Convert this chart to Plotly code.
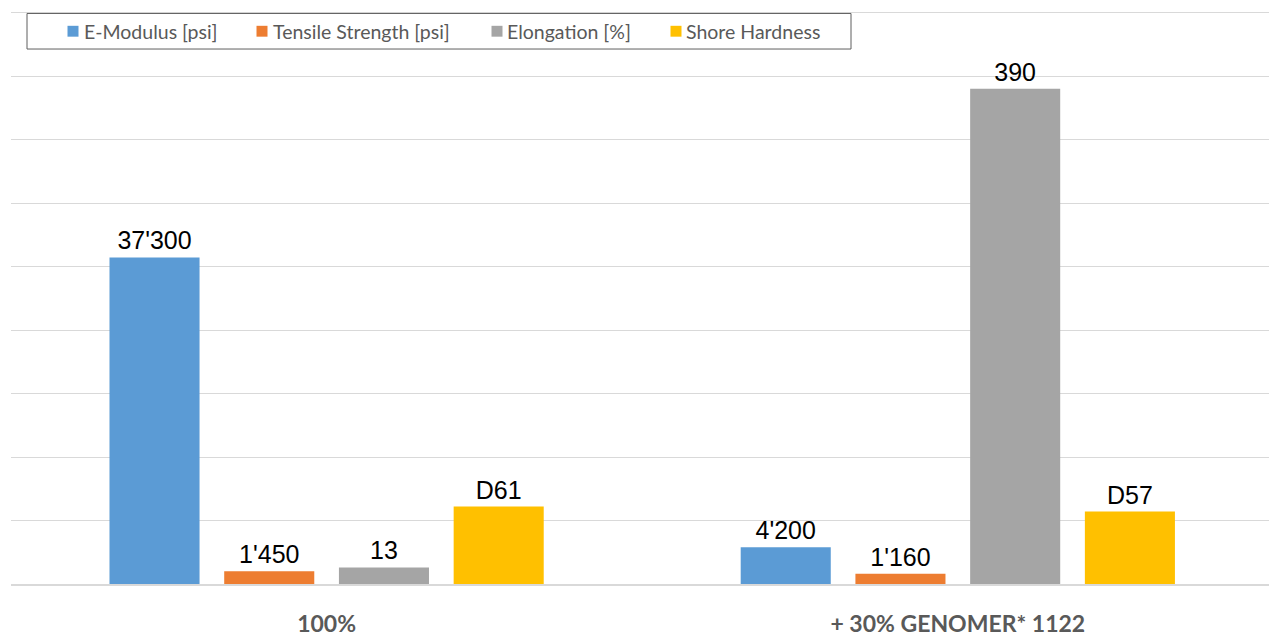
import plotly.graph_objects as go

# Formulations compared
categories = ["100%", "+ 30% GENOMER* 1122"]

# Measured properties per formulation
e_modulus_psi = [37300, 4200]
tensile_strength_psi = [1450, 1160]
elongation_pct = [13, 390]
shore_hardness_d = [61, 57]

series_names = ["E-Modulus [psi]", "Tensile Strength [psi]", "Elongation [%]", "Shore Hardness"]
series_colors = ["#5B9BD5", "#ED7D31", "#A5A5A5", "#FFC000"]

PSI_PER_MPA = 145.038

W, H = 1269, 637
ML, MR, MT, MB = 11, 0, 10, 46


def fmt_thousands(v):
    return f"{v:,}".replace(",", "'")


# Stress values are plotted in MPa so all four series share one axis
series = [
    ([v / PSI_PER_MPA for v in e_modulus_psi], [fmt_thousands(v) for v in e_modulus_psi]),
    ([v / PSI_PER_MPA for v in tensile_strength_psi], [fmt_thousands(v) for v in tensile_strength_psi]),
    (elongation_pct, [str(v) for v in elongation_pct]),
    (shore_hardness_d, [f"D{v}" for v in shore_hardness_d]),
]

fig = go.Figure()
for name, color, (vals, labels) in zip(series_names, series_colors, series):
    fig.add_trace(go.Bar(
        x=categories,
        y=vals,
        name=name,
        marker=dict(color=color, line=dict(width=0)),
        text=labels,
        textposition="outside",
        constraintext="none",
        cliponaxis=False,
        textfont=dict(family="Liberation Sans, Arial, sans-serif", size=25, color="#000000"),
        showlegend=False,
    ))

plot_w = W - ML - MR
plot_h = H - MT - MB


def px_x(px):
    return (px - ML) / plot_w


def px_y(py):
    return (H - MB - py) / plot_h


# Legend drawn as a framed row of swatches and labels
shapes = [dict(
    type="rect", xref="paper", yref="paper",
    x0=px_x(27), x1=px_x(851), y0=px_y(49.5), y1=px_y(13.5),
    line=dict(color="#5f5f5f", width=1), fillcolor="#ffffff", layer="above",
)]
annotations = []
swatch_left = [67.5, 256.5, 491.5, 670.5]
text_left = [81.5, 270.5, 505, 683.5]
for name, color, sx, tx in zip(series_names, series_colors, swatch_left, text_left):
    shapes.append(dict(
        type="rect", xref="paper", yref="paper",
        x0=px_x(sx), x1=px_x(sx + 11), y0=px_y(37), y1=px_y(26),
        line=dict(width=0), fillcolor=color, layer="above",
    ))
    annotations.append(dict(
        text=name, xref="paper", yref="paper",
        x=px_x(tx), y=px_y(31.5), xanchor="left", yanchor="middle",
        showarrow=False, font=dict(family="Lato, sans-serif", size=19.5, color="#595959"),
    ))

fig.update_layout(
    width=W, height=H,
    margin=dict(l=ML, r=MR, t=MT, b=MB, pad=0),
    paper_bgcolor="#ffffff", plot_bgcolor="#ffffff",
    barmode="group", bargap=0.273, bargroupgap=0.215,
    shapes=shapes, annotations=annotations,
    showlegend=False,
    xaxis=dict(
        type="category", range=[-0.5, 1.493],
        showgrid=False, showline=True, linecolor="#d9d9d9", linewidth=1.5,
        ticks="", ticklabelstandoff=19,
        tickfont=dict(family="Lato, sans-serif", size=23, color="#595959", weight="bold"),
    ),
    yaxis=dict(
        range=[0, 452], dtick=50, showticklabels=False,
        showgrid=True, gridcolor="#d9d9d9", gridwidth=1, zeroline=False,
    ),
)

fig.write_html("out.html")
